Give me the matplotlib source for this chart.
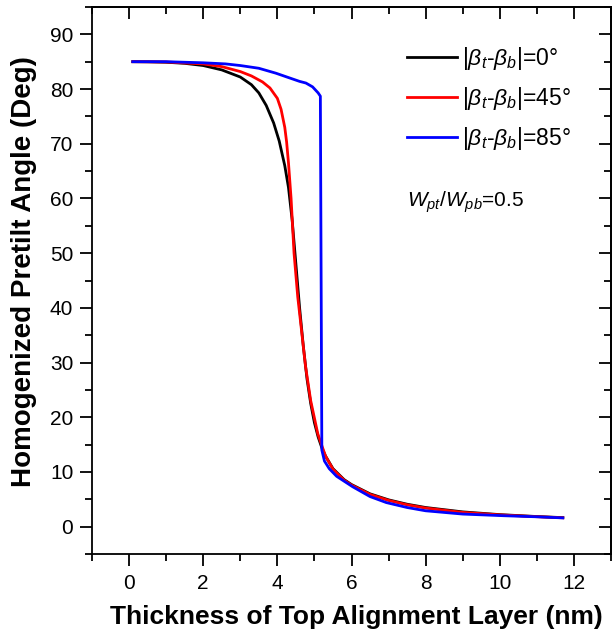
import numpy as np
import matplotlib
matplotlib.use("Agg")
import matplotlib.pyplot as plt
from matplotlib.ticker import MultipleLocator

plt.rcParams['font.family'] = ['Liberation Sans', 'DejaVu Sans']
plt.rcParams['mathtext.fontset'] = 'custom'
plt.rcParams['mathtext.rm'] = 'Liberation Sans'
plt.rcParams['mathtext.it'] = 'Liberation Sans:italic'
plt.rcParams['mathtext.bf'] = 'Liberation Sans:bold'

# |beta_t - beta_b| = 0 deg
x_0 = [0.1, 0.5, 1.0, 1.5, 2.0, 2.5, 3.0, 3.3, 3.5, 3.7, 3.9, 4.05, 4.2, 4.3, 4.4,
       4.5, 4.6, 4.7, 4.8, 4.9, 5.0, 5.1, 5.2, 5.3, 5.5, 5.8, 6.0, 6.5, 7.0, 7.5,
       8.0, 9.0, 10.0, 11.0, 11.7]
y_0 = [85.0, 84.98, 84.9, 84.7, 84.3, 83.5, 82.2, 80.8, 79.3, 77.0, 73.8, 70.5, 66.0, 62.0, 56.0,
       48.0, 40.0, 33.0, 27.0, 22.5, 19.0, 16.4, 14.4, 12.9, 10.6, 8.6, 7.7, 6.0, 4.9, 4.1,
       3.5, 2.7, 2.2, 1.85, 1.65]

# |beta_t - beta_b| = 45 deg
x_45 = [0.1, 1.0, 2.0, 2.5, 3.0, 3.3, 3.6, 3.8, 4.0, 4.1, 4.2, 4.25, 4.3, 4.37, 4.45,
        4.55, 4.65, 4.76, 4.9, 5.09, 5.2, 5.3, 5.5, 5.8, 6.0, 6.5, 7.0, 7.5, 8.0,
        9.0, 10.0, 11.0, 11.7]
y_45 = [85.0, 84.95, 84.6, 84.1, 83.2, 82.4, 81.3, 80.2, 78.3, 76.3, 73.0, 70.3, 66.5, 60.0, 50.0,
        42.0, 36.0, 29.3, 23.0, 17.0, 14.8, 12.9, 10.5, 8.5, 7.6, 5.9, 4.8, 4.0, 3.4,
        2.6, 2.15, 1.82, 1.62]

# |beta_t - beta_b| = 85 deg
x_85 = [0.1, 1.0, 2.0, 2.6, 3.0, 3.5, 3.96, 4.3, 4.6, 4.77, 4.95, 5.1, 5.16, 5.2, 5.27,
        5.4, 5.6, 6.03, 6.5, 6.94, 7.5, 8.0, 9.0, 10.1, 11.0, 11.7]
y_85 = [85.0, 85.0, 84.8, 84.6, 84.3, 83.8, 82.9, 82.1, 81.4, 81.1, 80.4, 79.3, 78.7, 14.0, 12.0,
        10.6, 9.2, 7.3, 5.5, 4.4, 3.5, 2.9, 2.3, 2.0, 1.8, 1.6]

labels = [r'|$\beta_t$-$\beta_b$|=0°', r'|$\beta_t$-$\beta_b$|=45°', r'|$\beta_t$-$\beta_b$|=85°']
colors = ['black', '#ff0000', '#0000ff']

fig = plt.figure(figsize=(6.13, 6.41), dpi=100)
ax = fig.add_axes([92 / 613, 1 - 554 / 641, 519 / 613, 547 / 641])

for xs, ys, lab, c in zip([x_0, x_45, x_85], [y_0, y_45, y_85], labels, colors):
    ax.plot(xs, ys, color=c, lw=2.0, label=lab)

ax.set_xlim(-1, 13)
ax.set_ylim(-5, 95)
ax.set_xticks(np.arange(0, 13, 2))
ax.set_yticks(np.arange(0, 91, 10))
ax.xaxis.set_minor_locator(MultipleLocator(1))
ax.yaxis.set_minor_locator(MultipleLocator(5))

for s in ax.spines.values():
    s.set_linewidth(1.3)

ax.tick_params(which='major', direction='out', length=8.5, width=1.3, labelsize=15)
ax.tick_params(which='minor', direction='out', length=5, width=1.3)
ax.tick_params(axis='x', which='major', pad=6)
ax.tick_params(axis='y', which='major', pad=5)

# mirrored ticks on top/right pointing inward
axt = ax.secondary_xaxis('top')
axt.set_xticks(np.arange(0, 13, 2))
axt.xaxis.set_minor_locator(MultipleLocator(1))
axt.tick_params(which='major', direction='in', length=8.5, width=1.3, labeltop=False)
axt.tick_params(which='minor', direction='in', length=5, width=1.3)
axr = ax.secondary_yaxis('right')
axr.set_yticks(np.arange(0, 91, 10))
axr.yaxis.set_minor_locator(MultipleLocator(5))
axr.tick_params(which='major', direction='in', length=8.5, width=1.3, labelright=False)
axr.tick_params(which='minor', direction='in', length=5, width=1.3)
for sec in (axt, axr):
    for s in sec.spines.values():
        s.set_linewidth(1.3)

ax.set_xlabel('Thickness of Top Alignment Layer (nm)', fontsize=19, fontweight='bold')
ax.xaxis.set_label_coords((356 - 92) / 519, -(617 - 554) / 547, transform=ax.transAxes)
ax.set_ylabel('Homogenized Pretilt Angle (Deg)', fontsize=20, fontweight='bold')
ax.yaxis.set_label_coords(-(92 - 24) / 519, (554 - 272) / 547, transform=ax.transAxes)
ax.xaxis.label.set_va('center')
ax.yaxis.label.set_va('center')

leg = ax.legend(loc='upper left', bbox_to_anchor=(407 / 613, 1 - 45 / 641),
                bbox_transform=fig.transFigure, frameon=False, fontsize=16.5,
                handlelength=2.2, handletextpad=0.22, labelspacing=0.56,
                borderpad=0, borderaxespad=0)

fig.text(407 / 613, 1 - 202 / 641, r'$W_{pt}/W_{pb}$=0.5', fontsize=15, va='center', ha='left')

fig.savefig('out.png', dpi=100)
